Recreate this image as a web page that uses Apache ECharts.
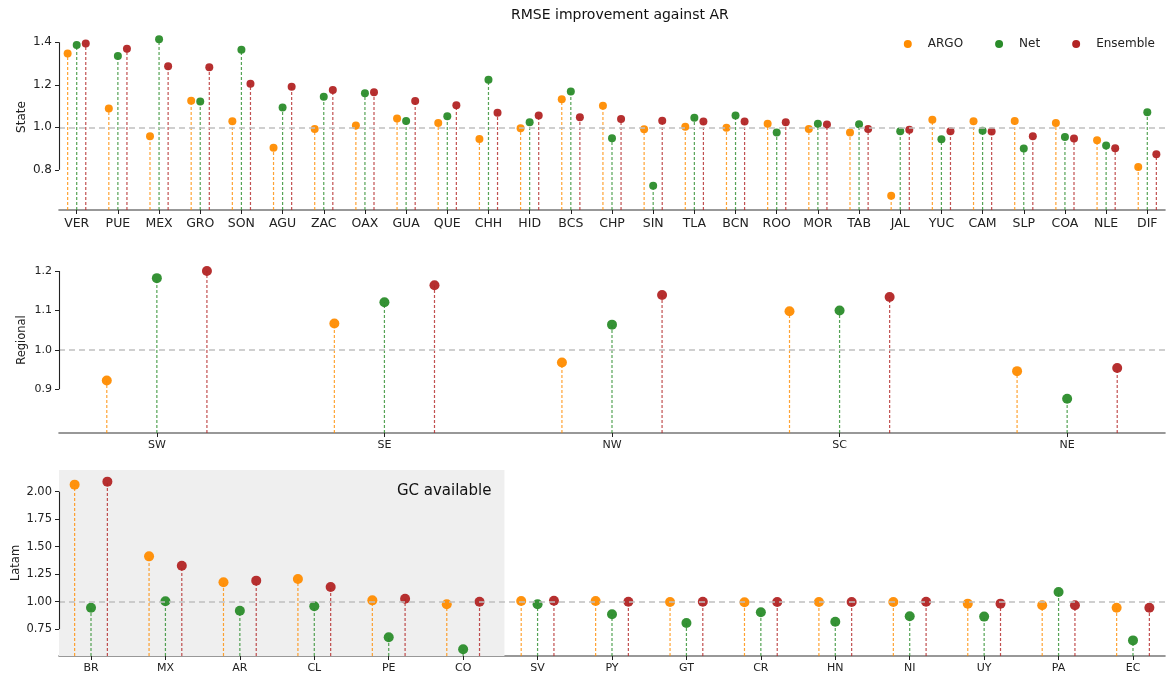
<!DOCTYPE html>
<html>
<head>
<meta charset="utf-8">
<script src="https://cdn.jsdelivr.net/npm/echarts@6/dist/echarts.min.js"></script>
<style>
html,body{margin:0;padding:0;background:#fff;}
#chart{width:1168px;height:679px;}
</style>
</head>
<body>
<div id="chart"></div>
<script>
// ---------- DATA ----------
const stateCats = ['VER','PUE','MEX','GRO','SON','AGU','ZAC','OAX','GUA','QUE','CHH','HID','BCS','CHP','SIN','TLA','BCN','ROO','MOR','TAB','JAL','YUC','CAM','SLP','COA','NLE','DIF'];
const stateArgo = [1.347,1.088,0.958,1.125,1.028,0.904,0.992,1.008,1.042,1.020,0.945,0.995,1.132,1.102,0.991,1.003,0.998,1.017,0.992,0.975,0.678,1.035,1.028,1.030,1.020,0.939,0.813];
const stateNet  = [1.387,1.336,1.414,1.122,1.365,1.093,1.144,1.160,1.030,1.052,1.224,1.024,1.168,0.948,0.725,1.045,1.055,0.975,1.017,1.014,0.981,0.944,0.984,0.900,0.955,0.915,1.071];
const stateEns  = [1.394,1.370,1.287,1.282,1.205,1.191,1.176,1.165,1.124,1.104,1.069,1.055,1.047,1.039,1.031,1.027,1.027,1.024,1.013,0.992,0.989,0.981,0.980,0.958,0.947,0.901,0.873];
const stateTicks = [0.8, 1.0, 1.2, 1.4];

const regionCats = ['SW','SE','NW','SC','NE'];
const regionArgo = [0.922,1.067,0.968,1.098,0.946];
const regionNet  = [1.182,1.121,1.064,1.100,0.876];
const regionEns  = [1.200,1.164,1.139,1.134,0.954];
const regionTicks = [0.9, 1.0, 1.1, 1.2];

const latamCats = ['BR','MX','AR','CL','PE','CO','SV','PY','GT','CR','HN','NI','UY','PA','EC'];
const latamArgo = [2.064,1.412,1.176,1.206,1.012,0.976,1.006,1.006,0.997,0.994,0.997,0.997,0.982,0.967,0.945];
const latamNet  = [0.945,1.003,0.918,0.958,0.676,0.567,0.976,0.885,0.806,0.903,0.818,0.867,0.864,1.088,0.648];
const latamEns  = [2.091,1.327,1.191,1.133,1.027,1.000,1.009,1.000,1.000,0.997,0.997,1.000,0.982,0.967,0.945];
const latamTicks = [0.75, 1.00, 1.25, 1.50, 1.75, 2.00];

const methodNames = ['ARGO','Net','Ensemble'];
const refValue = 1.0;
const gcLastIndex = 5;   // CO is last country with GC available
const titleText = 'RMSE improvement against AR';

// ---------- LAYOUT / STYLE ----------
const colors = ['#ff8c00', '#2a8c2a', '#b22424'];
const offsets = [-0.22, 0, 0.22];
const pad = 0.43;
const FONT = 'DejaVu Sans';

const panels = [
  {name:'State', cats:stateCats, vals:[stateArgo,stateNet,stateEns], ticks:stateTicks, ymin:0.611, ymax:1.486, top:24, dec:1, sym:8, tickFont:12, xFont:12.5, nameFont:12, nameGap:31},
  {name:'Regional', cats:regionCats, vals:[regionArgo,regionNet,regionEns], ticks:regionTicks, ymin:0.789, ymax:1.261, top:247, dec:1, sym:10, tickFont:11, xFont:11, nameFont:11.5, nameGap:31},
  {name:'Latam', cats:latamCats, vals:[latamArgo,latamNet,latamEns], ticks:latamTicks, ymin:0.506, ymax:2.197, top:470, dec:2, sym:10, tickFont:11.5, xFont:11, nameFont:11.5, nameGap:37}
];

const grid = [], xAxis = [], yAxis = [], series = [];

panels.forEach((p, k) => {
  const n = p.cats.length;
  const xMin = -pad, xMax = n - 1 + pad;
  const idx = p.cats.map((_, i) => i);
  grid.push({left:59, right:3, top:p.top, height:186, outerBoundsMode:'none', containLabel:false});
  xAxis.push({
    type:'value', gridIndex:k, min:xMin, max:xMax,
    splitLine:{show:false},
    axisLine:{show:true, onZero:false, lineStyle:{color:'#777', width:1.6}},
    axisTick:{show:true, customValues:idx, length:4, lineStyle:{color:'#222', width:1}},
    axisLabel:{customValues:idx, margin:7, fontFamily:FONT, fontSize:p.xFont, color:'#222',
      formatter:(v)=>p.cats[Math.round(v)]}
  });
  yAxis.push({
    type:'value', gridIndex:k, min:p.ymin, max:p.ymax,
    name:p.name, nameLocation:'middle', nameGap:p.nameGap, nameMoveOverlap:false,
    nameTextStyle:{fontFamily:FONT, fontSize:p.nameFont, color:'#222'},
    splitLine:{show:false},
    axisLine:{show:false, onZero:false},
    axisTick:{show:true, customValues:p.ticks, length:4, lineStyle:{color:'#222'}},
    axisLabel:{customValues:p.ticks, margin:7, fontFamily:FONT, fontSize:p.tickFont, color:'#222',
      formatter:(v)=>v.toFixed(p.dec)}
  });

  const deco = {
    type:'scatter', xAxisIndex:k, yAxisIndex:k, data:[], silent:true, z:1,
    markLine:{
      silent:true, symbol:['none','none'], animation:false, label:{show:false},
      data:[
        {yAxis:refValue, lineStyle:{color:'#c0c0c0', type:[6,4], width:1.6}},
        [{coord:[xMin, p.ticks[0]], lineStyle:{color:'#222', type:'solid', width:1.1}},
         {coord:[xMin, p.ticks[p.ticks.length-1]]}]
      ]
    }
  };
  if (k === 2) {
    deco.markArea = {
      silent:true, animation:false,
      itemStyle:{color:'#efefef'},
      label:{show:true, position:'insideTopRight', offset:[-8,9], fontFamily:FONT, fontSize:15, color:'#111'},
      data:[[{name:'GC available', coord:[xMin, p.ymax]}, {coord:[gcLastIndex + 0.555, p.ymin]}]]
    };
  }
  series.push(deco);

  p.vals.forEach((arr, m) => {
    const pts = arr.map((v, i) => [i + offsets[m], v]);
    const color = colors[m];
    const yBase = p.ymin;
    series.push({
      type:'custom', name:methodNames[m], xAxisIndex:k, yAxisIndex:k, z:2,
      encode:{x:0, y:1}, silent:true,
      renderItem:(params, api) => {
        const x = api.value(0), y = api.value(1);
        const p0 = api.coord([x, yBase]);
        const p1 = api.coord([x, y]);
        return {type:'line', shape:{x1:p0[0], y1:p0[1], x2:p1[0], y2:p1[1]},
          style:{stroke:color, lineWidth:1.2, lineDash:[3,2], opacity:0.8}};
      },
      data:pts
    });
    series.push({
      type:'scatter', name:methodNames[m], xAxisIndex:k, yAxisIndex:k, z:3,
      symbol:'circle', symbolSize:p.sym,
      itemStyle:{color:color, opacity:0.95},
      data:pts
    });
  });
});

const chart = echarts.init(document.getElementById('chart'), null, {renderer:'canvas'});
chart.setOption({
  animation:false,
  backgroundColor:'#fff',
  title:{text:titleText, left:506, top:3,
    textStyle:{fontFamily:FONT, fontSize:14, fontWeight:'normal', color:'#111'}},
  legend:{
    top:33, right:8, itemGap:32, itemWidth:8, itemHeight:8, icon:'circle',
    textStyle:{fontFamily:FONT, fontSize:12, color:'#222', padding:[0,0,0,11]},
    data:methodNames.map((nm, m) => ({name:nm, icon:'circle', itemStyle:{color:colors[m]}}))
  },
  grid, xAxis, yAxis, series
});
</script>
</body>
</html>
